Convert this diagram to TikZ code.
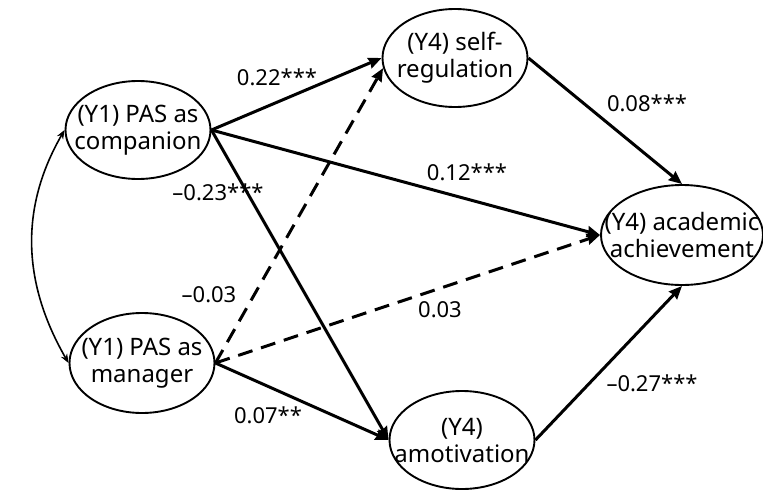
\documentclass[tikz,border=0pt]{standalone}
\usepackage{fontspec}
\setmainfont{Noto Sans}
\usetikzlibrary{shapes.geometric, arrows.meta}

\begin{document}
\begin{tikzpicture}[x=1pt, y=-1pt,
		latent/.style = {draw, ellipse, line width = 1.9pt, inner sep = 0pt, minimum width = 145pt, minimum height = 98pt},
		caption/.style = {align = center, font = \fontsize{24}{27}\selectfont},
		coef/.style = {font = \fontsize{22}{26}\selectfont},
		effect/.style = {line width = 3pt, -{Stealth[length = 13pt, width = 11pt, inset = 1pt]}},
		noeffect/.style = {effect, dash pattern = on 15pt off 9pt}]
		\useasboundingbox (0,0) rectangle (763,490);
		
		\coordinate (companion centre) at (138,130);
		\coordinate (manager centre) at (142,363);
		\coordinate (selfreg centre) at (455,58);
		\coordinate (amotiv centre) at (462,440);
		\coordinate (achieve centre) at (682,235);
		
		%latent variables
		\node [latent] (companion) at (companion centre) {};
		\node [latent, minimum height = 100pt] (manager) at (manager centre) {};
		\node [latent] (selfreg) at (selfreg centre) {};
		\node [latent] (amotiv) at (amotiv centre) {};
		\node [latent, minimum width = 162pt, minimum height = 100pt] (achieve) at (achieve centre) {};
		
		\node [caption] (companion text) at (companion) {(Y1) PAS as\\companion};
		\node [caption] (manager text) at (manager) {(Y1) PAS as\\manager};
		\node [caption] (selfreg text) at (selfreg) {(Y4) self-\\regulation};
		\node [caption] (amotiv text) at (amotiv) {(Y4)\\amotivation};
		\node [caption] (achieve text) at (achieve) {(Y4) academic\\achievement};
		
		%covariance
		\draw [line width = 1.6pt, {Stealth[length = 9pt, width = 7pt]}-{Stealth[length = 9pt, width = 7pt]}] (companion.west) to [out = 240, in = 120] (manager.west);
		
		%paths
		\draw [effect] (companion.east) -- (selfreg.west);
		\draw [effect] (companion.east) -- (achieve.west);
		\draw [effect] (companion.east) -- (amotiv.west);
		\draw [noeffect] (manager.east) -- (selfreg.188);
		\draw [noeffect] (manager.east) -- (achieve.west);
		\draw [effect] (manager.east) -- (amotiv.west);
		\draw [effect] (selfreg.east) -- (achieve.north);
		\draw [effect] (amotiv.east) -- (achieve.south);
		
		%coefficients
		\node [coef] (c1) at (277,77) {0.22***};
		\node [coef] (c2) at (647,103) {0.08***};
		\node [coef] (c3) at (467,172) {0.12***};
		\node [coef] (c4) at (218,192) {--0.23***};
		\node [coef] (c5) at (209,295) {--0.03};
		\node [coef] (c6) at (440,310) {0.03};
		\node [coef] (c7) at (268,415) {0.07**};
		\node [coef] (c8) at (652,383) {--0.27***};
	\end{tikzpicture}
\end{document}
